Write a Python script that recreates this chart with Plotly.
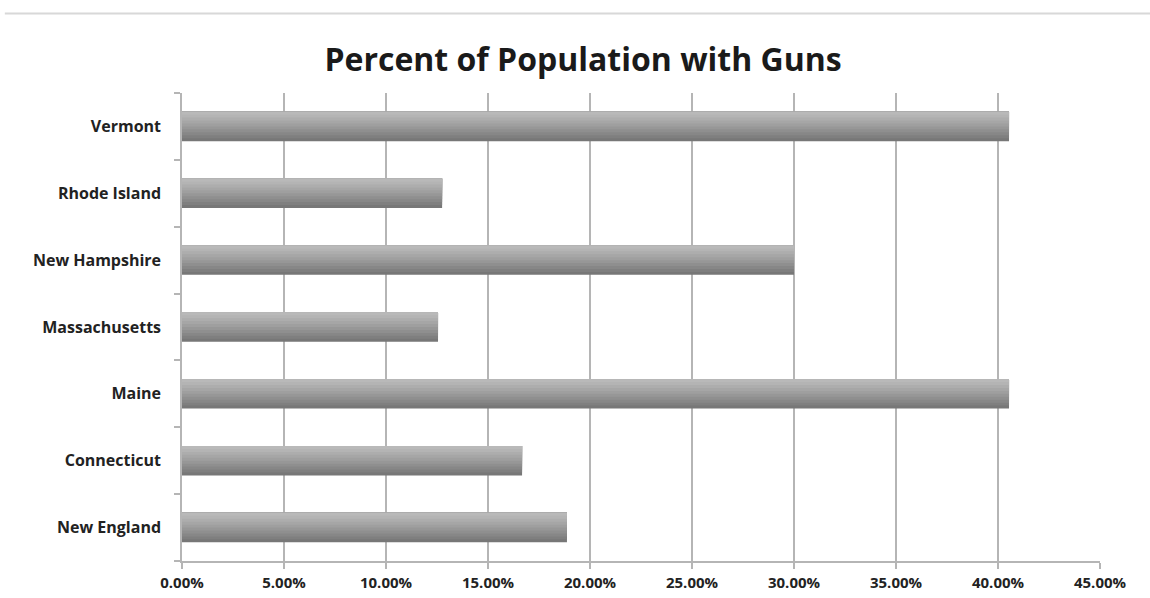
import plotly.graph_objects as go

states = ["New England", "Connecticut", "Maine", "Massachusetts",
          "New Hampshire", "Rhode Island", "Vermont"]
pct_with_guns = [0.1887, 0.1667, 0.4054, 0.1255, 0.3000, 0.1275, 0.4054]
x_ticks = [0, 0.05, 0.10, 0.15, 0.20, 0.25, 0.30, 0.35, 0.40, 0.45]

# stacked overlays mimic the vertical gradient of the bars (bottom -> top)
stripe_colors = ["#777777", "#7f7f7f", "#878787", "#8f8f8f", "#979797",
                 "#9f9f9f", "#a6a6a6", "#adadad", "#b4b4b4", "#b9b9b9"]
bar_h = 0.44
n = len(stripe_colors)
sw = bar_h / n

fig = go.Figure()
for i, c in enumerate(stripe_colors):
    fig.add_trace(go.Bar(
        y=states, x=pct_with_guns, orientation="h",
        width=bar_h - i * sw, offset=-bar_h / 2 + i * sw,
        marker=dict(color=c, line=dict(width=0)),
        showlegend=False, hoverinfo="x+y",
    ))

fig.update_layout(
    width=1150, height=598,
    margin=dict(l=182, r=50, t=93, b=37),
    paper_bgcolor="white", plot_bgcolor="white",
    barmode="overlay",
    title=dict(text="<b>Percent of Population with Guns</b>",
               x=0.507, xanchor="center", y=0.9, yanchor="middle",
               font=dict(family="Open Sans", size=32, color="#1a1a1a")),
    font=dict(family="Open Sans", color="#1a1a1a"),
    shapes=[dict(type="line", xref="paper", yref="paper",
                 x0=-0.193, x1=1.06, y0=1.17, y1=1.17,
                 line=dict(color="#d8d8d8", width=2))],
)
fig.update_xaxes(
    range=[0, 0.45], tickvals=x_ticks, tickformat=".2%",
    showgrid=True, gridcolor="#b5b5b5", gridwidth=1.5,
    showline=True, linecolor="#b5b5b5", linewidth=1.5,
    ticks="outside", ticklen=6, tickcolor="#b5b5b5", tickwidth=1.5,
    ticklabelstandoff=1, automargin=False,
    tickfont=dict(family="Open Sans", size=15, color="#222222", weight="bold"),
    zeroline=False,
)
fig.update_yaxes(
    type="category", categoryorder="array", categoryarray=states,
    showgrid=False, showline=True, linecolor="#b5b5b5", linewidth=1.5,
    ticks="outside", ticklen=6, tickcolor="#b5b5b5", tickwidth=1.5,
    tickson="boundaries", ticklabelstandoff=16, automargin=False,
    tickfont=dict(family="Open Sans", size=16, color="#222222", weight="bold"),
)

fig.write_html("out.html")
